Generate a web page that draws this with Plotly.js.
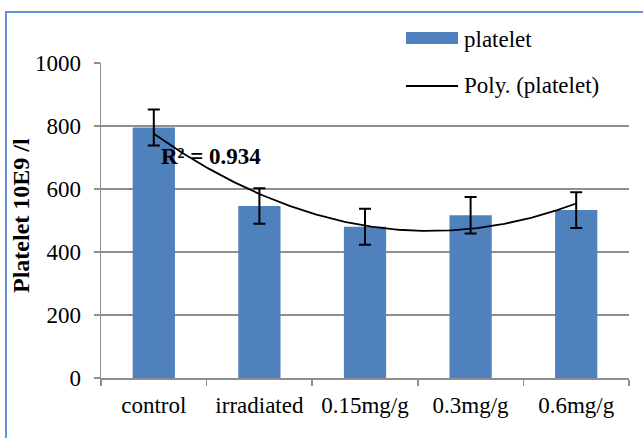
<!DOCTYPE html>
<html>
<head>
<meta charset="utf-8">
<script src="https://cdn.plot.ly/plotly-3.0.1.min.js"></script>
<style>
  html, body { margin: 0; padding: 0; background: #ffffff; overflow: hidden; }
  #frame { position: absolute; left: 5px; top: 11px; width: 700px; height: 500px;
           border: 2px solid #6393d6; box-sizing: border-box; }
  #chart { position: absolute; left: 0; top: 0; width: 643px; height: 438px; }
</style>
</head>
<body>
<div id="frame"></div>
<div id="chart"></div>
<script>
// Platelet counts (10E9 /l) per treatment group, with error bars
const categories = ['control', 'irradiated', '0.15mg/g', '0.3mg/g', '0.6mg/g'];
const platelet = [795, 546, 480, 517, 533];
const plateletErr = [57, 56, 57, 58, 57];
const yTicks = [0, 200, 400, 600, 800, 1000];

const FONT = 'Liberation Serif, Times New Roman, serif';
const BAR_BLUE = '#4f81bd';
const GRID = '#8f8f8f';

// Second-order polynomial trendline (least squares, x = 1..n as in a spreadsheet)
function polyFit2(ys) {
  const n = ys.length;
  let s = [0, 0, 0, 0, 0], t = [0, 0, 0];
  for (let i = 0; i < n; i++) {
    const x = i + 1;
    for (let k = 0; k < 5; k++) s[k] += Math.pow(x, k);
    for (let k = 0; k < 3; k++) t[k] += ys[i] * Math.pow(x, k);
  }
  // Solve normal equations [s0 s1 s2; s1 s2 s3; s2 s3 s4] * [a b c] = t
  const A = [[s[0], s[1], s[2], t[0]], [s[1], s[2], s[3], t[1]], [s[2], s[3], s[4], t[2]]];
  for (let c = 0; c < 3; c++) {
    for (let r = c + 1; r < 3; r++) {
      const f = A[r][c] / A[c][c];
      for (let k = c; k < 4; k++) A[r][k] -= f * A[c][k];
    }
  }
  const coef = [0, 0, 0];
  for (let r = 2; r >= 0; r--) {
    let v = A[r][3];
    for (let k = r + 1; k < 3; k++) v -= A[r][k] * coef[k];
    coef[r] = v / A[r][r];
  }
  return coef; // a + b x + c x^2
}
const coef = polyFit2(platelet);
const evalPoly = x => coef[0] + coef[1] * x + coef[2] * x * x;
const mean = platelet.reduce((a, b) => a + b, 0) / platelet.length;
let ssRes = 0, ssTot = 0;
platelet.forEach((y, i) => {
  ssRes += Math.pow(y - evalPoly(i + 1), 2);
  ssTot += Math.pow(y - mean, 2);
});
const r2 = 1 - ssRes / ssTot;

const trendX = [], trendY = [];
for (let k = 0; k <= 200; k++) {
  const xi = 1 + 4 * k / 200;
  trendX.push(xi - 1);
  trendY.push(evalPoly(xi));
}

// Plot area in pixels, used for the hand-drawn legend and axis title
const W = 643, H = 438;
const M = { l: 101, r: 14, t: 63, b: 60 };
const pw = W - M.l - M.r, ph = H - M.t - M.b;
const px = X => (X - M.l) / pw;
const py = Y => (H - M.b - Y) / ph;

const traces = [
  {
    type: 'bar',
    x: categories,
    y: platelet,
    name: 'platelet',
    marker: { color: BAR_BLUE, line: { width: 0 } },
    error_y: { type: 'data', array: plateletErr, visible: true, color: '#000000', thickness: 2, width: 6 },
    hoverinfo: 'x+y'
  },
  {
    type: 'scatter',
    mode: 'lines',
    x: trendX,
    y: trendY,
    xaxis: 'x2',
    name: 'Poly. (platelet)',
    line: { color: '#000000', width: 1.8 },
    hoverinfo: 'skip'
  }
];

const layout = {
  width: W,
  height: H,
  margin: M,
  paper_bgcolor: 'rgba(0,0,0,0)',
  plot_bgcolor: 'rgba(0,0,0,0)',
  showlegend: false,
  bargap: 0.6,
  font: { family: FONT, size: 23, color: '#000000' },
  xaxis: {
    type: 'category',
    range: [-0.5, 4.5],
    tickson: 'boundaries',
    ticks: 'outside',
    ticklen: 6,
    tickwidth: 1.5,
    tickcolor: GRID,
    showline: true,
    linecolor: GRID,
    linewidth: 1.5,
    showgrid: false,
    ticklabelstandoff: 6,
    tickfont: { family: FONT, size: 23, color: '#000000' },
    fixedrange: true
  },
  xaxis2: {
    type: 'linear',
    overlaying: 'x',
    range: [-0.5, 4.5],
    visible: false,
    fixedrange: true
  },
  yaxis: {
    range: [0, 1000],
    tickvals: yTicks,
    ticktext: yTicks.map(String),
    ticks: 'outside',
    ticklen: 6,
    tickwidth: 1.5,
    tickcolor: GRID,
    showline: true,
    linecolor: GRID,
    linewidth: 1.5,
    showgrid: true,
    gridcolor: GRID,
    gridwidth: 1.5,
    zeroline: false,
    ticklabelstandoff: 8,
    tickfont: { family: FONT, size: 23, color: '#000000' },
    fixedrange: true
  },
  shapes: [
    { type: 'rect', xref: 'paper', yref: 'paper', x0: px(406), x1: px(458), y0: py(44), y1: py(32),
      fillcolor: BAR_BLUE, line: { width: 0 } },
    { type: 'line', xref: 'paper', yref: 'paper', x0: px(406), x1: px(458), y0: py(86), y1: py(86),
      line: { color: '#000000', width: 1.8 } }
  ],
  annotations: [
    { xref: 'paper', yref: 'paper', x: px(21), y: py(216), xanchor: 'center', yanchor: 'middle',
      textangle: -90, text: '<b>Platelet 10E9 /l</b>', showarrow: false,
      font: { family: FONT, size: 24, color: '#000000' } },
    { xref: 'paper', yref: 'paper', x: px(462), y: py(39), xanchor: 'left', yanchor: 'middle',
      text: 'platelet', showarrow: false, font: { family: FONT, size: 23, color: '#000000' } },
    { xref: 'paper', yref: 'paper', x: px(462), y: py(86), xanchor: 'left', yanchor: 'middle',
      text: 'Poly. (platelet)', showarrow: false, font: { family: FONT, size: 23, color: '#000000' } },
    { xref: 'x2', yref: 'y', x: 0.54, y: 702, xanchor: 'center', yanchor: 'middle',
      text: '<b>R² = ' + r2.toFixed(3) + '</b>', showarrow: false,
      font: { family: FONT, size: 23, color: '#000000' } }
  ]
};

Plotly.newPlot('chart', traces, layout, { displayModeBar: false, staticPlot: true });
</script>
</body>
</html>
